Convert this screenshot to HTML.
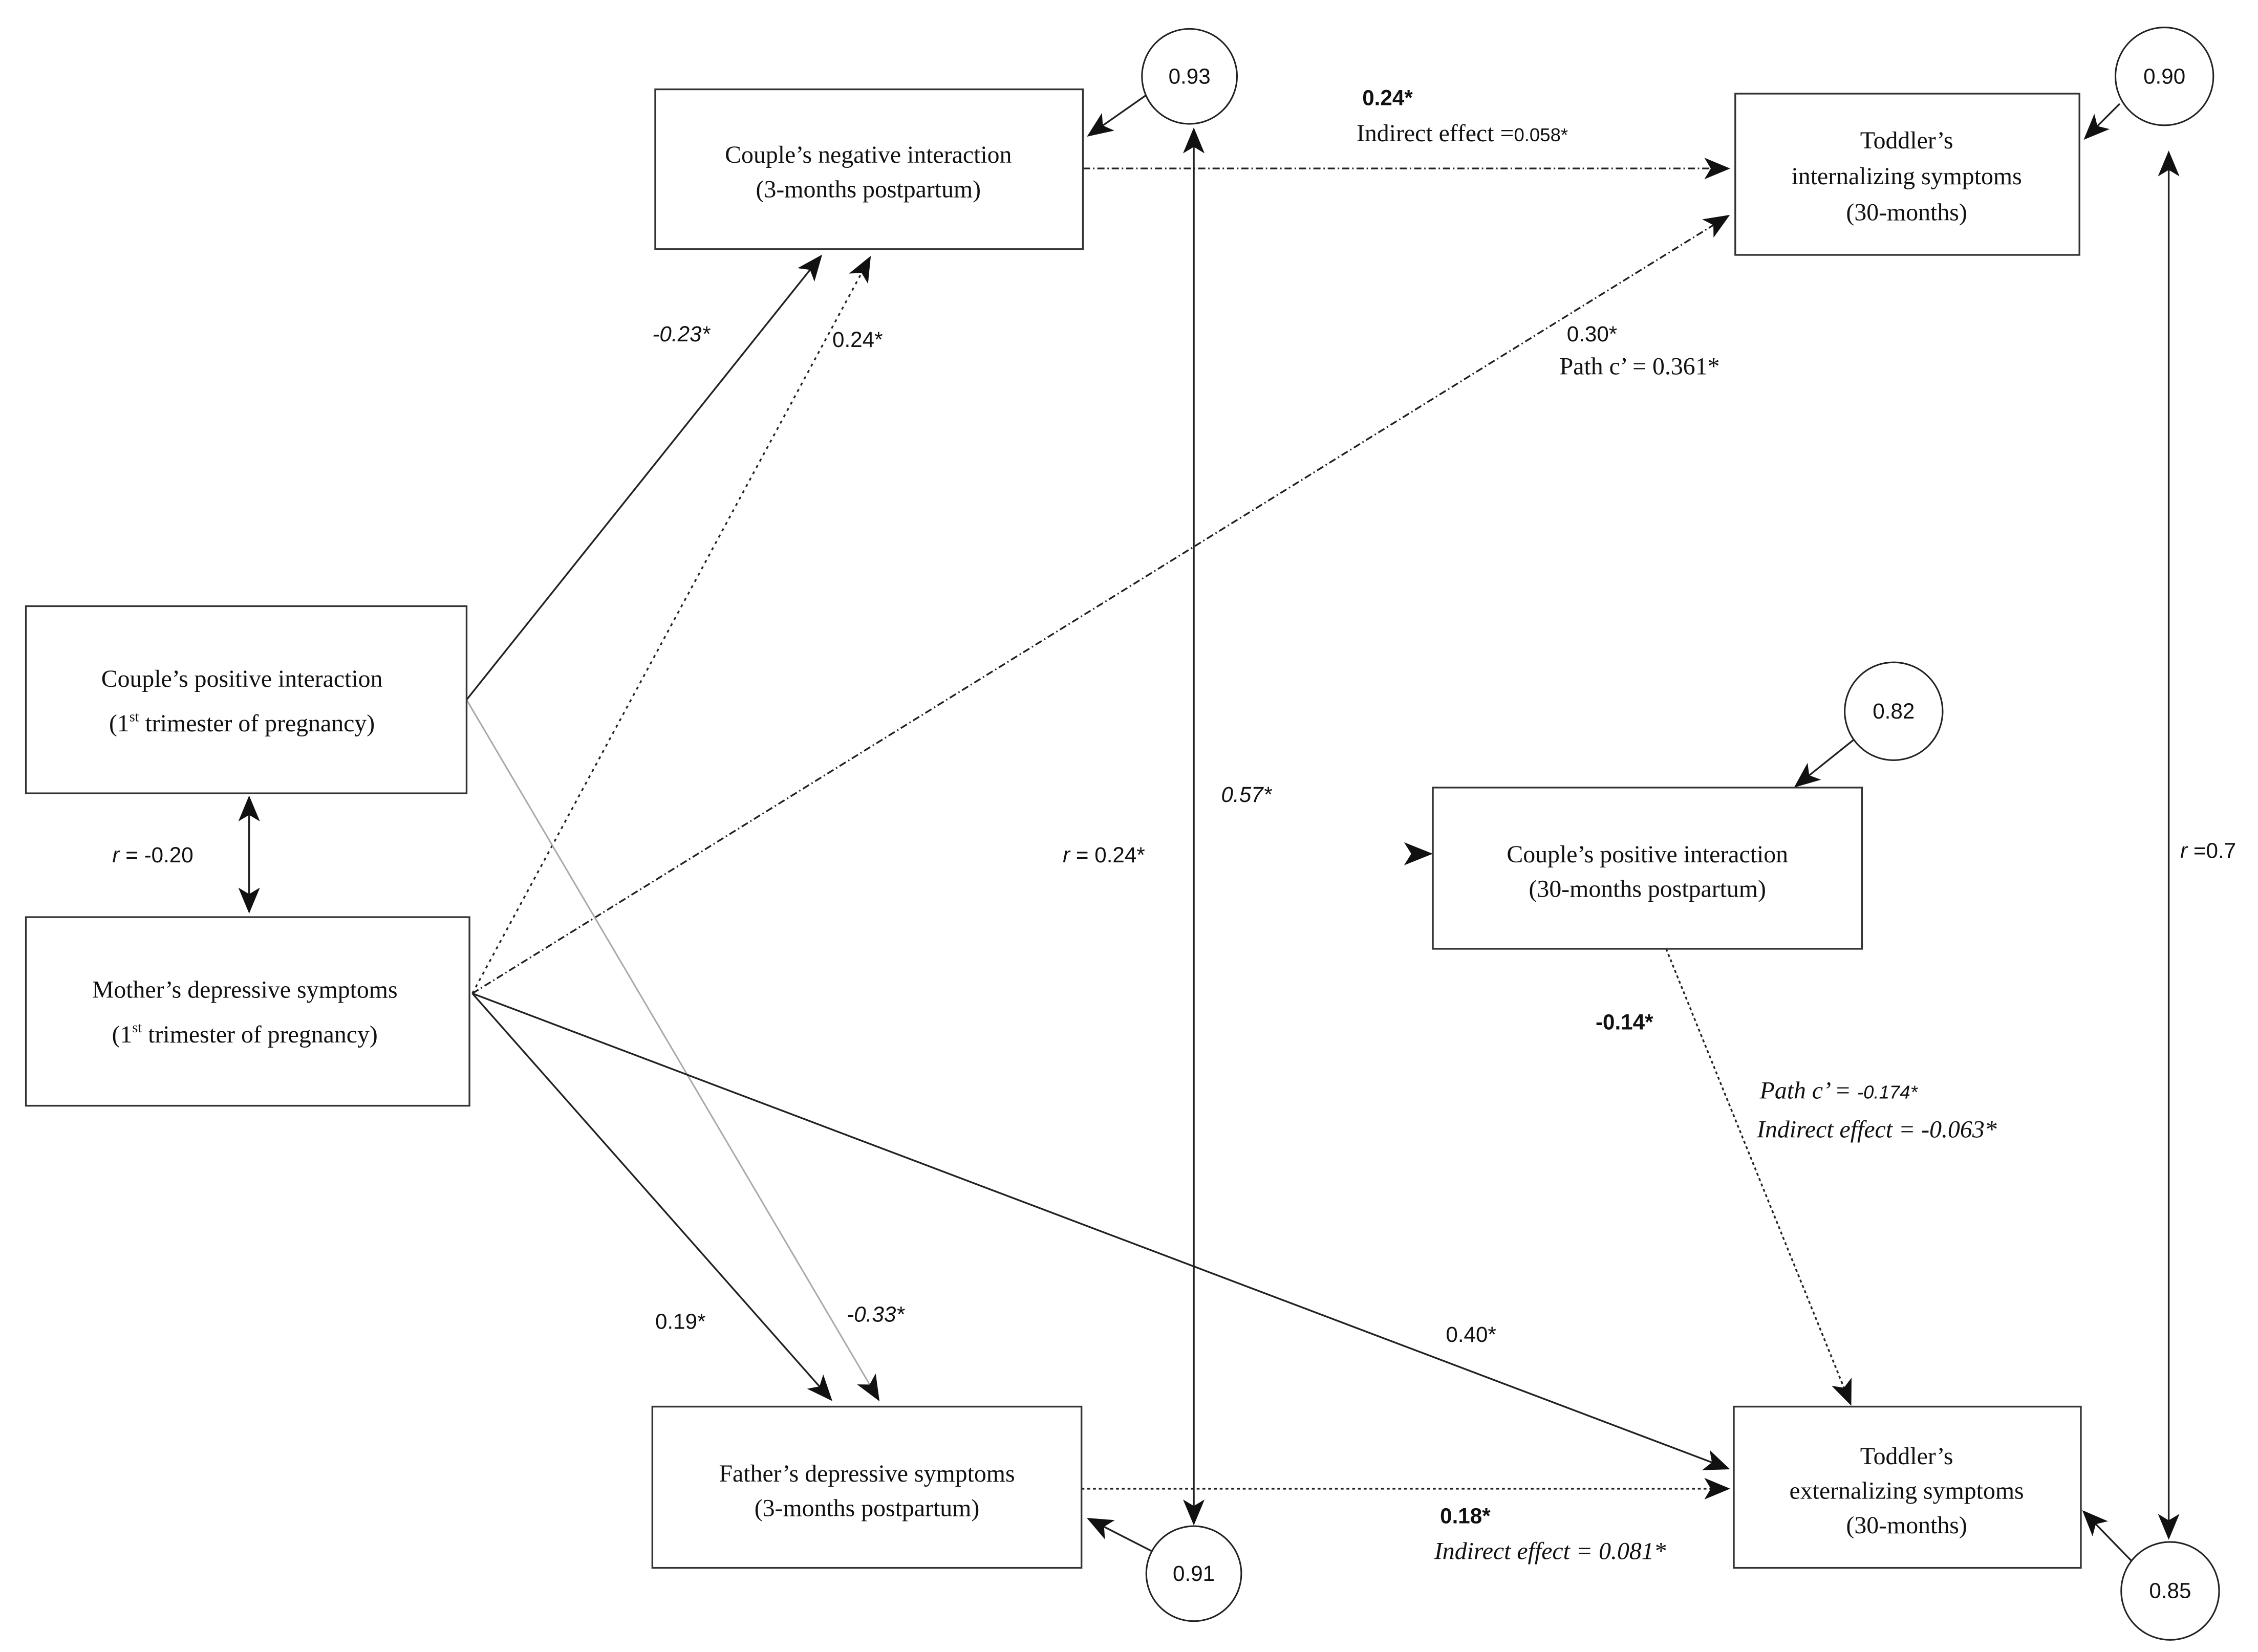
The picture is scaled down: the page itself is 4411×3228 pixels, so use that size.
<!DOCTYPE html>
<html><head><meta charset="utf-8"><style>
html,body{margin:0;padding:0;background:#fff;}
svg{display:block;}
.bx{fill:#fff;stroke:#333;stroke-width:1.2;}
.t{font-family:"Liberation Serif",serif;font-size:17px;fill:#111;text-anchor:middle;}
.l{font-family:"Liberation Sans",sans-serif;font-size:15px;fill:#111;}
.c{fill:#fff;stroke:#222;stroke-width:1.1;}
.ln{stroke:#222;stroke-width:1.2;fill:none;}
</style></head><body>
<svg width="4411" height="3228" viewBox="0 0 1568 1147.4" xmlns="http://www.w3.org/2000/svg">
<defs>
<marker id="a" viewBox="0 0 12 10" refX="11" refY="5" markerWidth="18" markerHeight="15" markerUnits="userSpaceOnUse" orient="auto-start-reverse">
<path d="M0,0 L12,5 L0,10 L3,5 z" fill="#111"/></marker>
</defs>
<rect width="1568" height="1147.4" fill="#fff"/>
<line class="ln" x1="324" y1="486" x2="570" y2="178" marker-end="url(#a)"/>
<line class="ln" x1="328" y1="690" x2="604" y2="179" stroke-dasharray="2,3" stroke-width="1" marker-end="url(#a)"/>
<line class="ln" x1="328" y1="690" x2="1200" y2="150" stroke-dasharray="5,2,1,2" stroke-width="1" marker-end="url(#a)"/>
<line x1="324" y1="486" x2="610" y2="972" stroke="#aaa" stroke-width="1.1" marker-end="url(#a)"/>
<line class="ln" x1="328" y1="690" x2="577" y2="972" marker-end="url(#a)"/>
<line class="ln" x1="328" y1="690" x2="1200" y2="1020" marker-end="url(#a)"/>
<line class="ln" x1="752" y1="117" x2="1200" y2="117" stroke-dasharray="5,2,1,2" stroke-width="1" marker-end="url(#a)"/>
<line class="ln" x1="751" y1="1034" x2="1200" y2="1034" stroke-dasharray="2,2" stroke-width="1" marker-end="url(#a)"/>
<line class="ln" x1="1157" y1="659" x2="1285" y2="975" stroke-dasharray="2,2" stroke-width="1" marker-end="url(#a)"/>
<line class="ln" x1="829" y1="90" x2="829" y2="1058" marker-start="url(#a)" marker-end="url(#a)"/>
<line class="ln" x1="1506" y1="106" x2="1506" y2="1068" marker-start="url(#a)" marker-end="url(#a)"/>
<line class="ln" x1="173" y1="554" x2="173" y2="633" marker-start="url(#a)" marker-end="url(#a)"/>
<line class="ln" x1="796" y1="66" x2="756" y2="94" marker-end="url(#a)"/>
<line class="ln" x1="1472" y1="72" x2="1448" y2="96" marker-end="url(#a)"/>
<line class="ln" x1="1287" y1="514" x2="1247" y2="546" marker-end="url(#a)"/>
<line class="ln" x1="801" y1="1078" x2="756" y2="1055" marker-end="url(#a)"/>
<line class="ln" x1="1480" y1="1084" x2="1447" y2="1050" marker-end="url(#a)"/>
<path d="M975,585 L995,593 L975,601 L980,593 z" fill="#111"/>
<rect class="bx" x="455" y="62" width="297" height="111"/>
<text class="t" x="603" y="113">Couple’s negative interaction</text>
<text class="t" x="603" y="137">(3-months postpartum)</text>
<rect class="bx" x="1205" y="65" width="239" height="112"/>
<text class="t" x="1324" y="103">Toddler’s</text>
<text class="t" x="1324" y="128">internalizing symptoms</text>
<text class="t" x="1324" y="153">(30-months)</text>
<rect class="bx" x="18" y="421" width="306" height="130"/>
<text class="t" x="168" y="477">Couple’s positive interaction</text>
<text class="t" x="168" y="508">(1<tspan dy="-7" font-size="10">st</tspan><tspan dy="7"> trimester of pregnancy)</tspan></text>
<rect class="bx" x="18" y="637" width="308" height="131"/>
<text class="t" x="170" y="693">Mother’s depressive symptoms</text>
<text class="t" x="170" y="724">(1<tspan dy="-7" font-size="10">st</tspan><tspan dy="7"> trimester of pregnancy)</tspan></text>
<rect class="bx" x="995" y="547" width="298" height="112"/>
<text class="t" x="1144" y="599">Couple’s positive interaction</text>
<text class="t" x="1144" y="623">(30-months postpartum)</text>
<rect class="bx" x="453" y="977" width="298" height="112"/>
<text class="t" x="602" y="1029">Father’s depressive symptoms</text>
<text class="t" x="602" y="1053">(3-months postpartum)</text>
<rect class="bx" x="1204" y="977" width="241" height="112"/>
<text class="t" x="1324" y="1017">Toddler’s</text>
<text class="t" x="1324" y="1041">externalizing symptoms</text>
<text class="t" x="1324" y="1065">(30-months)</text>
<circle class="c" cx="826" cy="53" r="33"/><text class="l" x="826" y="58" text-anchor="middle">0.93</text>
<circle class="c" cx="1503" cy="53" r="34"/><text class="l" x="1503" y="58" text-anchor="middle">0.90</text>
<circle class="c" cx="1315" cy="494" r="34"/><text class="l" x="1315" y="499" text-anchor="middle">0.82</text>
<circle class="c" cx="829" cy="1093" r="33"/><text class="l" x="829" y="1098" text-anchor="middle">0.91</text>
<circle class="c" cx="1507" cy="1105" r="34"/><text class="l" x="1507" y="1110" text-anchor="middle">0.85</text>
<text class="l" x="946" y="73" font-weight="bold">0.24*</text>
<text class="t" style="text-anchor:start" x="942" y="98">Indirect effect =<tspan font-family="Liberation Sans" font-size="13">0.058*</tspan></text>
<text class="l" x="453" y="237" font-style="italic">-0.23*</text>
<text class="l" x="578" y="241">0.24*</text>
<text class="l" x="1088" y="237">0.30*</text>
<text class="t" style="text-anchor:start" x="1083" y="260">Path c’ = 0.361*</text>
<text class="l" x="78" y="599"><tspan font-style="italic">r</tspan> = -0.20</text>
<text class="l" x="848" y="557" font-style="italic">0.57*</text>
<text class="l" x="738" y="599"><tspan font-style="italic">r</tspan> = 0.24*</text>
<text class="l" x="1514" y="596"><tspan font-style="italic">r</tspan> =0.7</text>
<text class="l" x="1108" y="715" font-weight="bold">-0.14*</text>
<text class="t" style="text-anchor:start;font-style:italic" x="1222" y="763">Path c’ = <tspan font-family="Liberation Sans" font-size="13">-0.174*</tspan></text>
<text class="t" style="text-anchor:start;font-style:italic" x="1220" y="790">Indirect effect = -0.063*</text>
<text class="l" x="455" y="923">0.19*</text>
<text class="l" x="588" y="918" font-style="italic">-0.33*</text>
<text class="l" x="1004" y="932">0.40*</text>
<text class="l" x="1000" y="1058" font-weight="bold">0.18*</text>
<text class="t" style="text-anchor:start;font-style:italic" x="996" y="1083">Indirect effect = 0.081*</text>
</svg>
</body></html>
